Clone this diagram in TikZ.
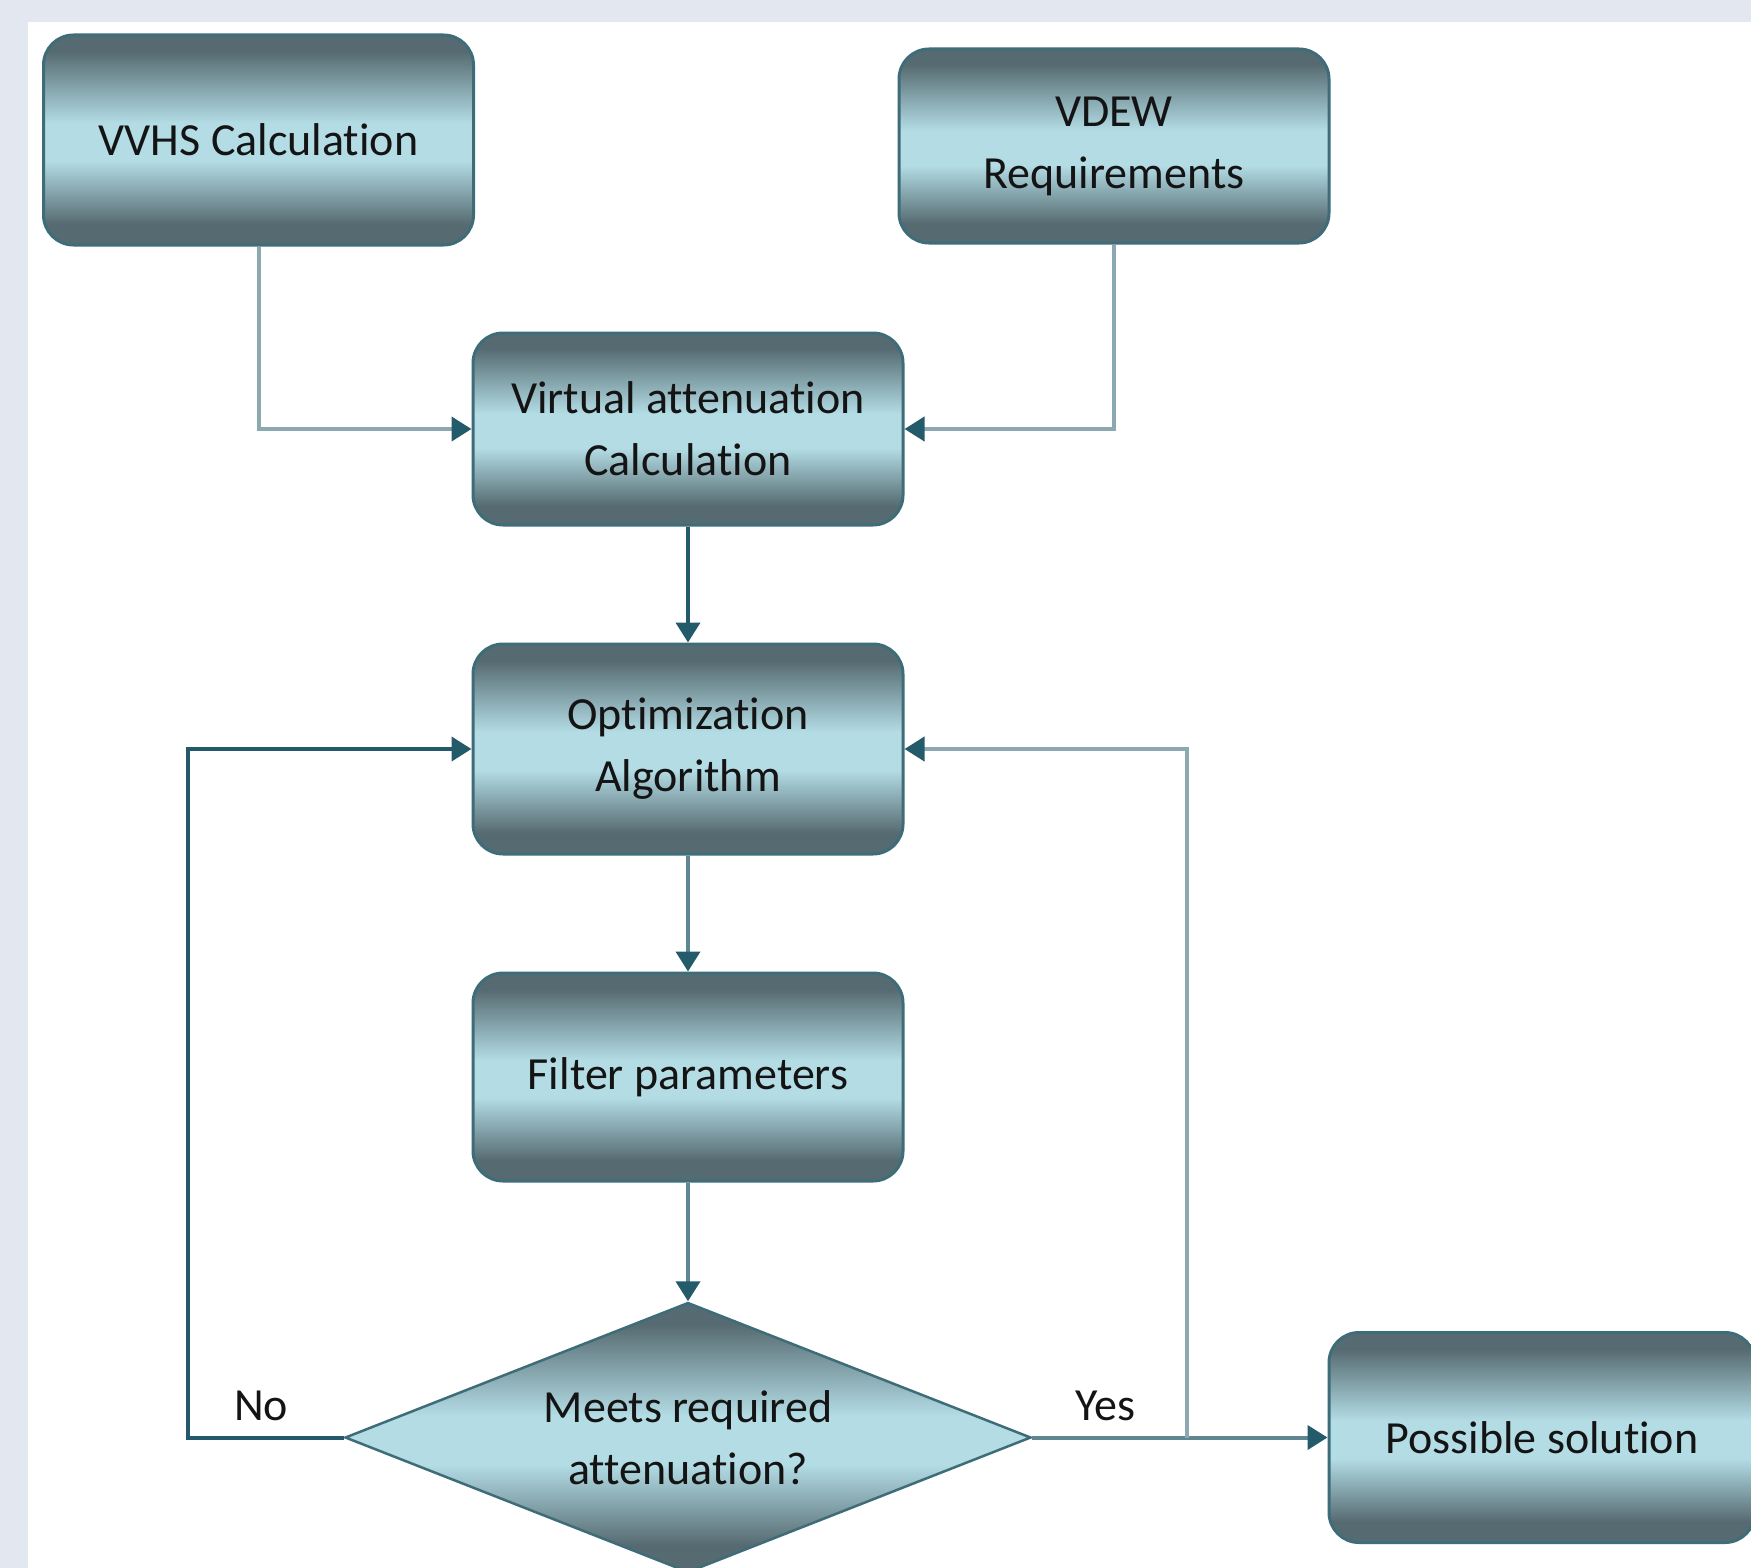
\documentclass[tikz,border=0pt]{standalone}
\usepackage{fontspec}
\setmainfont[Ligatures={NoCommon,NoContextual}]{Carlito}
\usetikzlibrary{shapes.geometric,arrows.meta}
\definecolor{dk}{HTML}{566B71}
\definecolor{lt}{HTML}{B3DCE5}
\definecolor{bord}{HTML}{3E6D79}
\definecolor{txt}{HTML}{141414}
\definecolor{bgc}{HTML}{E3E7EF}
\definecolor{lnlight}{HTML}{8CA8B0}
\definecolor{lnmed}{HTML}{5F8791}
\definecolor{lndark}{HTML}{23596A}
\definecolor{arr}{HTML}{235B6B}
\pgfdeclareverticalshading{boxshade}{100bp}{color(0bp)=(dk); color(25bp)=(dk); color(30bp)=(dk); color(45bp)=(lt); color(54bp)=(lt); color(71bp)=(dk); color(75bp)=(dk); color(100bp)=(dk)}
\tikzset{
  procbox/.style={rectangle, rounded corners=30pt, draw=bord, line width=3pt,
    shading=boxshade, minimum width=430pt, align=center,
    font=\fontsize{46}{62}\selectfont, text=txt, inner sep=0pt},
  decbox/.style={diamond, draw=bord, line width=2.5pt, shading=boxshade,
    minimum width=686pt, minimum height=270pt, inner sep=0pt},
  lbl/.style={font=\fontsize{46}{62}\selectfont, text=txt, inner sep=0pt, align=center},
  conn/.style={line width=4pt, -{Triangle[length=20pt,width=24pt,color=arr]}},
  lightln/.style={conn, draw=lnlight},
  medln/.style={conn, draw=lnmed},
  darkln/.style={conn, draw=lndark},
}
\begin{document}
\begin{tikzpicture}[x=1pt,y=-1pt]
\useasboundingbox (0,0) rectangle (1751,1568);
\fill[bgc] (0,0) rectangle (1751,1568);
\fill[white] (28,22) rectangle (1751,1568);

\node[procbox, minimum height=210pt] (vvhs) at (258.5,140) {VVHS Calculation};
\node[procbox, minimum height=194pt] (vdew) at (1114,146) {VDEW\\Requirements};
\node[procbox, minimum height=192pt] (virt) at (688,429) {Virtual attenuation\\Calculation};
\node[procbox, minimum height=210pt] (opt) at (688,749) {Optimization\\Algorithm};
\node[procbox, minimum height=208pt] (filt) at (688,1077) {Filter parameters};
\node[decbox] (dec) at (688,1437.5) {};
\node[lbl] (dectext) at (dec.center) {Meets required\\attenuation?};
\node[procbox, minimum width=426pt, minimum height=210pt] (sol) at (1542,1437.5) {Possible solution};

\node[lbl] (no) at (261,1406) {No};
\node[lbl] (yes) at (1105,1406) {Yes};

\coordinate (yj) at (1187,1437.5);

\draw[lightln] (vvhs.south) |- (virt.west);
\draw[lightln] (vdew.south) |- (virt.east);
\draw[darkln] (virt.south) -- (opt.north);
\draw[medln] (opt.south) -- (filt.north);
\draw[medln] (filt.south) -- (dec.north);
\draw[darkln] (dec.west) -- ++(-156,0) |- (opt.west);
\draw[medln] (dec.east) -- (sol.west);
\draw[lightln] (yj) |- (opt.east);
\end{tikzpicture}
\end{document}
